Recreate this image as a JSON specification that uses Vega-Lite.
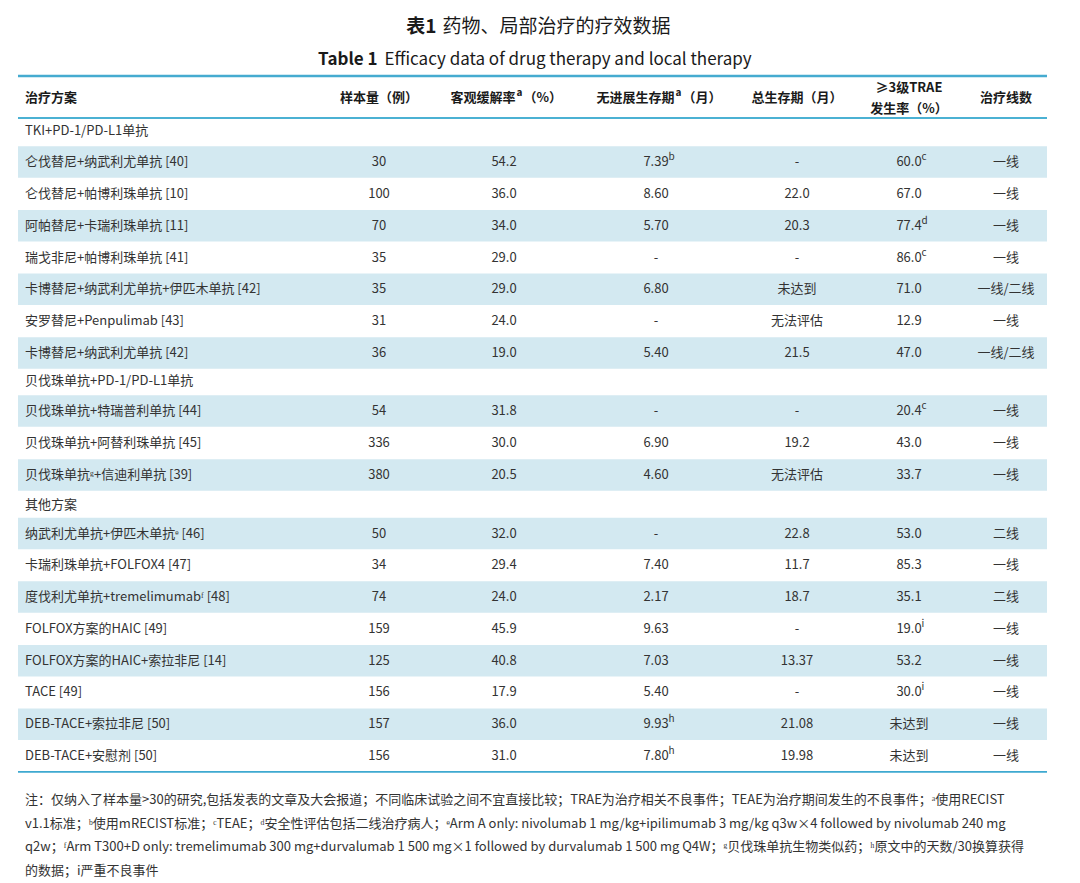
{
  "$schema": "https://vega.github.io/schema/vega-lite/v6.json",
  "width": 1080,
  "height": 883,
  "autosize": {"type": "fit", "contains": "padding"},
  "padding": 0,
  "background": "white",
  "config": {"view": {"stroke": null}, "text": {"font": "Noto Sans CJK SC"}},
  "datasets": {
    "columns": [
      {"key": "name", "idx": 0, "label": "治疗方案"},
      {"key": "n", "idx": 1, "label": "样本量（例）"},
      {"key": "orr", "idx": 2, "label": "客观缓解率", "sup": "a", "unit": "（%）"},
      {"key": "pfs", "idx": 3, "label": "无进展生存期", "sup": "a", "unit": "（月）"},
      {"key": "os", "idx": 4, "label": "总生存期（月）"},
      {"key": "trae", "idx": 5, "label": "≥3级TRAE\n发生率（%）"},
      {"key": "line", "idx": 6, "label": "治疗线数"}
    ],
    "rows": [
      {"r": 0, "kind": "group", "name": "TKI+PD-1/PD-L1单抗"},
      {"r": 1, "kind": "data", "name": "仑伐替尼+纳武利尤单抗 [40]", "n": "30", "orr": "54.2", "pfs": "7.39", "pfsSup": "b", "os": "-", "trae": "60.0", "traeSup": "c", "line": "一线"},
      {"r": 2, "kind": "data", "name": "仑伐替尼+帕博利珠单抗 [10]", "n": "100", "orr": "36.0", "pfs": "8.60", "os": "22.0", "trae": "67.0", "line": "一线"},
      {"r": 3, "kind": "data", "name": "阿帕替尼+卡瑞利珠单抗 [11]", "n": "70", "orr": "34.0", "pfs": "5.70", "os": "20.3", "trae": "77.4", "traeSup": "d", "line": "一线"},
      {"r": 4, "kind": "data", "name": "瑞戈非尼+帕博利珠单抗 [41]", "n": "35", "orr": "29.0", "pfs": "-", "os": "-", "trae": "86.0", "traeSup": "c", "line": "一线"},
      {"r": 5, "kind": "data", "name": "卡博替尼+纳武利尤单抗+伊匹木单抗 [42]", "n": "35", "orr": "29.0", "pfs": "6.80", "os": "未达到", "trae": "71.0", "line": "一线/二线"},
      {"r": 6, "kind": "data", "name": "安罗替尼+Penpulimab [43]", "n": "31", "orr": "24.0", "pfs": "-", "os": "无法评估", "trae": "12.9", "line": "一线"},
      {"r": 7, "kind": "data", "name": "卡博替尼+纳武利尤单抗 [42]", "n": "36", "orr": "19.0", "pfs": "5.40", "os": "21.5", "trae": "47.0", "line": "一线/二线"},
      {"r": 8, "kind": "group", "name": "贝伐珠单抗+PD-1/PD-L1单抗"},
      {"r": 9, "kind": "data", "name": "贝伐珠单抗+特瑞普利单抗 [44]", "n": "54", "orr": "31.8", "pfs": "-", "os": "-", "trae": "20.4", "traeSup": "c", "line": "一线"},
      {"r": 10, "kind": "data", "name": "贝伐珠单抗+阿替利珠单抗 [45]", "n": "336", "orr": "30.0", "pfs": "6.90", "os": "19.2", "trae": "43.0", "line": "一线"},
      {"r": 11, "kind": "data", "name": "贝伐珠单抗ᵍ+信迪利单抗 [39]", "n": "380", "orr": "20.5", "pfs": "4.60", "os": "无法评估", "trae": "33.7", "line": "一线"},
      {"r": 12, "kind": "group", "name": "其他方案"},
      {"r": 13, "kind": "data", "name": "纳武利尤单抗+伊匹木单抗ᵉ [46]", "n": "50", "orr": "32.0", "pfs": "-", "os": "22.8", "trae": "53.0", "line": "二线"},
      {"r": 14, "kind": "data", "name": "卡瑞利珠单抗+FOLFOX4 [47]", "n": "34", "orr": "29.4", "pfs": "7.40", "os": "11.7", "trae": "85.3", "line": "一线"},
      {"r": 15, "kind": "data", "name": "度伐利尤单抗+tremelimumabᶠ [48]", "n": "74", "orr": "24.0", "pfs": "2.17", "os": "18.7", "trae": "35.1", "line": "二线"},
      {"r": 16, "kind": "data", "name": "FOLFOX方案的HAIC [49]", "n": "159", "orr": "45.9", "pfs": "9.63", "os": "-", "trae": "19.0", "traeSup": " i", "line": "一线"},
      {"r": 17, "kind": "data", "name": "FOLFOX方案的HAIC+索拉非尼 [14]", "n": "125", "orr": "40.8", "pfs": "7.03", "os": "13.37", "trae": "53.2", "line": "一线"},
      {"r": 18, "kind": "data", "name": "TACE [49]", "n": "156", "orr": "17.9", "pfs": "5.40", "os": "-", "trae": "30.0", "traeSup": "i", "line": "一线"},
      {"r": 19, "kind": "data", "name": "DEB-TACE+索拉非尼 [50]", "n": "157", "orr": "36.0", "pfs": "9.93", "pfsSup": "h", "os": "21.08", "trae": "未达到", "line": "一线"},
      {"r": 20, "kind": "data", "name": "DEB-TACE+安慰剂 [50]", "n": "156", "orr": "31.0", "pfs": "7.80", "pfsSup": "h", "os": "19.98", "trae": "未达到", "line": "一线"}
    ],
    "notes": [
      {"line": 1, "text": "注：仅纳入了样本量>30的研究,包括发表的文章及大会报道；不同临床试验之间不宜直接比较；TRAE为治疗相关不良事件；TEAE为治疗期间发生的不良事件；ᵃ使用RECIST"},
      {"line": 2, "text": "v1.1标准；ᵇ使用mRECIST标准；ᶜTEAE；ᵈ安全性评估包括二线治疗病人；ᵉArm A only: nivolumab 1 mg/kg+ipilimumab 3 mg/kg q3w×4 followed by nivolumab 240 mg"},
      {"line": 3, "text": "q2w；ᶠArm T300+D only: tremelimumab 300 mg+durvalumab 1 500 mg×1 followed by durvalumab 1 500 mg Q4W；ᵍ贝伐珠单抗生物类似药；ʰ原文中的天数/30换算获得"},
      {"line": 4, "text": "的数据；i严重不良事件"}
    ]
  },
  "layer": [
    {
      "layer": [
        {
          "data": {"name": "rows"},
          "transform": [{"filter": "datum.kind === 'data' && datum.r % 2 === 1"}],
          "mark": {"type": "rule", "stroke": "#d3e9f1", "strokeWidth": 31.5, "strokeCap": "butt"},
          "encoding": {
            "y": {"field": "r", "type": "quantitative", "axis": null,
                  "scale": {"domain": [-1, 0, 1, 7, 8, 9, 11, 12, 13, 20], "range": [98, 131, 162, 353, 381, 411, 475, 505, 533.5, 756], "zero": false, "nice": false}},
            "x": {"datum": -0.0198, "type": "quantitative", "axis": null,
                  "scale": {"domain": [0, 1, 2, 3, 4, 5, 6], "range": [25, 379, 504, 656, 797, 909, 1006], "zero": false, "nice": false}},
            "x2": {"datum": 6.4227}
          }
        },
        {
          "data": {"values": [{}]},
          "mark": {"type": "rule", "stroke": "#45abd0", "strokeWidth": 2.5},
          "encoding": {
            "y": {"datum": -1.667, "type": "quantitative", "axis": null},
            "x": {"datum": -0.0198, "type": "quantitative", "axis": null},
            "x2": {"datum": 6.4227}
          }
        },
        {
          "data": {"values": [{}]},
          "mark": {"type": "rule", "stroke": "#4bb1d3", "strokeWidth": 1.8},
          "encoding": {
            "y": {"datum": -0.394, "type": "quantitative", "axis": null},
            "x": {"datum": -0.0198, "type": "quantitative", "axis": null},
            "x2": {"datum": 6.4227}
          }
        },
        {
          "data": {"values": [{}]},
          "mark": {"type": "rule", "stroke": "#3ea9d0", "strokeWidth": 1.8},
          "encoding": {
            "y": {"datum": 20.5, "type": "quantitative", "axis": null},
            "x": {"datum": -0.0198, "type": "quantitative", "axis": null},
            "x2": {"datum": 6.4227}
          }
        },
        {
          "data": {"values": [{}]},
          "mark": {"type": "text", "text": "表1", "align": "right", "baseline": "middle", "dx": -3, "dy": 2, "fontSize": 19, "fontWeight": "bold", "fill": "#1a1a1a"},
          "encoding": {
            "y": {"datum": -3.212, "type": "quantitative", "axis": null},
            "x": {"datum": 1.484, "type": "quantitative", "axis": null}
          }
        },
        {
          "data": {"values": [{}]},
          "mark": {"type": "text", "text": "药物、局部治疗的疗效数据", "align": "left", "baseline": "middle", "dx": 3, "dy": 2, "fontSize": 19, "fill": "#1a1a1a"},
          "encoding": {
            "y": {"datum": -3.212, "type": "quantitative", "axis": null},
            "x": {"datum": 1.484, "type": "quantitative", "axis": null}
          }
        },
        {
          "data": {"values": [{}]},
          "mark": {"type": "text", "text": "Table 1", "align": "right", "baseline": "middle", "dx": -3.5, "dy": 1.5, "fontSize": 17, "fontWeight": "bold", "fill": "#1a1a1a"},
          "encoding": {
            "y": {"datum": -2.182, "type": "quantitative", "axis": null},
            "x": {"datum": 1.016, "type": "quantitative", "axis": null}
          }
        },
        {
          "data": {"values": [{}]},
          "mark": {"type": "text", "text": "Efficacy data of drug therapy and local therapy", "align": "left", "baseline": "middle", "dx": 3.5, "dy": 1.5, "fontSize": 17, "fill": "#1a1a1a"},
          "encoding": {
            "y": {"datum": -2.182, "type": "quantitative", "axis": null},
            "x": {"datum": 1.016, "type": "quantitative", "axis": null}
          }
        },
        {
          "data": {"name": "columns"},
          "transform": [{"filter": "datum.idx === 1 || datum.idx === 4 || datum.idx === 6"}],
          "mark": {"type": "text", "align": "center", "baseline": "middle", "fontSize": 13, "fontWeight": "bold", "fill": "#1a1a1a"},
          "encoding": {
            "x": {"field": "idx", "type": "quantitative", "axis": null},
            "y": {"datum": -1, "type": "quantitative", "axis": null},
            "text": {"field": "label", "type": "nominal"}
          }
        },
        {
          "data": {"name": "columns"},
          "transform": [{"filter": "datum.idx === 2"}],
          "mark": {"type": "text", "align": "right", "baseline": "middle", "dx": 11.5, "fontSize": 13, "fontWeight": "bold", "fill": "#1a1a1a"},
          "encoding": {
            "x": {"field": "idx", "type": "quantitative", "axis": null},
            "y": {"datum": -1, "type": "quantitative", "axis": null},
            "text": {"field": "label", "type": "nominal"}
          }
        },
        {
          "data": {"name": "columns"},
          "transform": [{"filter": "datum.idx === 2"}],
          "mark": {"type": "text", "align": "left", "baseline": "middle", "dx": 12.5, "dy": -5, "fontSize": 10, "fontWeight": "bold", "fill": "#1a1a1a"},
          "encoding": {
            "x": {"field": "idx", "type": "quantitative", "axis": null},
            "y": {"datum": -1, "type": "quantitative", "axis": null},
            "text": {"field": "sup", "type": "nominal"}
          }
        },
        {
          "data": {"name": "columns"},
          "transform": [{"filter": "datum.idx === 2"}],
          "mark": {"type": "text", "align": "left", "baseline": "middle", "dx": 19.5, "fontSize": 13, "fontWeight": "bold", "fill": "#1a1a1a"},
          "encoding": {
            "x": {"field": "idx", "type": "quantitative", "axis": null},
            "y": {"datum": -1, "type": "quantitative", "axis": null},
            "text": {"field": "unit", "type": "nominal"}
          }
        },
        {
          "data": {"name": "columns"},
          "transform": [{"filter": "datum.idx === 3"}],
          "mark": {"type": "text", "align": "right", "baseline": "middle", "dx": 18.5, "fontSize": 13, "fontWeight": "bold", "fill": "#1a1a1a"},
          "encoding": {
            "x": {"field": "idx", "type": "quantitative", "axis": null},
            "y": {"datum": -1, "type": "quantitative", "axis": null},
            "text": {"field": "label", "type": "nominal"}
          }
        },
        {
          "data": {"name": "columns"},
          "transform": [{"filter": "datum.idx === 3"}],
          "mark": {"type": "text", "align": "left", "baseline": "middle", "dx": 19.5, "dy": -5, "fontSize": 10, "fontWeight": "bold", "fill": "#1a1a1a"},
          "encoding": {
            "x": {"field": "idx", "type": "quantitative", "axis": null},
            "y": {"datum": -1, "type": "quantitative", "axis": null},
            "text": {"field": "sup", "type": "nominal"}
          }
        },
        {
          "data": {"name": "columns"},
          "transform": [{"filter": "datum.idx === 3"}],
          "mark": {"type": "text", "align": "left", "baseline": "middle", "dx": 26.5, "fontSize": 13, "fontWeight": "bold", "fill": "#1a1a1a"},
          "encoding": {
            "x": {"field": "idx", "type": "quantitative", "axis": null},
            "y": {"datum": -1, "type": "quantitative", "axis": null},
            "text": {"field": "unit", "type": "nominal"}
          }
        },
        {
          "data": {"name": "columns"},
          "transform": [{"filter": "datum.idx === 5"}],
          "mark": {"type": "text", "align": "center", "baseline": "middle", "dy": -10.5, "fontSize": 13, "fontWeight": "bold", "fill": "#1a1a1a", "lineBreak": "\n", "lineHeight": 21},
          "encoding": {
            "x": {"field": "idx", "type": "quantitative", "axis": null},
            "y": {"datum": -1, "type": "quantitative", "axis": null},
            "text": {"field": "label", "type": "nominal"}
          }
        },
        {
          "data": {"name": "columns"},
          "transform": [{"filter": "datum.idx === 0"}],
          "mark": {"type": "text", "align": "left", "baseline": "middle", "fontSize": 13, "fontWeight": "bold", "fill": "#1a1a1a"},
          "encoding": {
            "x": {"field": "idx", "type": "quantitative", "axis": null},
            "y": {"datum": -1, "type": "quantitative", "axis": null},
            "text": {"field": "label", "type": "nominal"}
          }
        },
        {
          "data": {"name": "rows"},
          "mark": {"type": "text", "align": "left", "baseline": "middle", "fontSize": 13, "fill": "#333333"},
          "encoding": {
            "x": {"datum": 0, "type": "quantitative", "axis": null},
            "y": {"field": "r", "type": "quantitative", "axis": null},
            "text": {"field": "name", "type": "nominal"}
          }
        },
        {
          "data": {"name": "rows"},
          "transform": [
            {"filter": "datum.kind === 'data'"},
            {"fold": ["n", "orr", "pfs", "os", "trae", "line"], "as": ["key", "value"]},
            {"lookup": "key", "from": {"data": {"name": "columns"}, "key": "key", "fields": ["idx"]}}
          ],
          "mark": {"type": "text", "align": "center", "baseline": "middle", "fontSize": 13, "fill": "#333333"},
          "encoding": {
            "x": {"field": "idx", "type": "quantitative", "axis": null},
            "y": {"field": "r", "type": "quantitative", "axis": null},
            "text": {"field": "value", "type": "nominal"}
          }
        },
        {
          "data": {"name": "rows"},
          "transform": [{"filter": "isValid(datum.pfsSup)"}],
          "mark": {"type": "text", "align": "left", "baseline": "middle", "dx": 12.5, "dy": -5, "fontSize": 10, "fill": "#333333"},
          "encoding": {
            "x": {"datum": 3, "type": "quantitative", "axis": null},
            "y": {"field": "r", "type": "quantitative", "axis": null},
            "text": {"field": "pfsSup", "type": "nominal"}
          }
        },
        {
          "data": {"name": "rows"},
          "transform": [{"filter": "isValid(datum.traeSup)"}],
          "mark": {"type": "text", "align": "left", "baseline": "middle", "dx": 12.5, "dy": -5, "fontSize": 10, "fill": "#333333"},
          "encoding": {
            "x": {"datum": 5, "type": "quantitative", "axis": null},
            "y": {"field": "r", "type": "quantitative", "axis": null},
            "text": {"field": "traeSup", "type": "nominal"}
          }
        }
      ]
    },
    {
      "data": {"name": "notes"},
      "mark": {"type": "text", "align": "left", "baseline": "middle", "fontSize": 13, "fill": "#333333"},
      "encoding": {
        "x": {"datum": 0, "type": "quantitative", "axis": null},
        "y": {"field": "line", "type": "ordinal", "axis": null, "scale": {"type": "point", "range": [800, 871], "padding": 0}},
        "text": {"field": "text", "type": "nominal"}
      }
    }
  ],
  "resolve": {"scale": {"y": "independent"}}
}
